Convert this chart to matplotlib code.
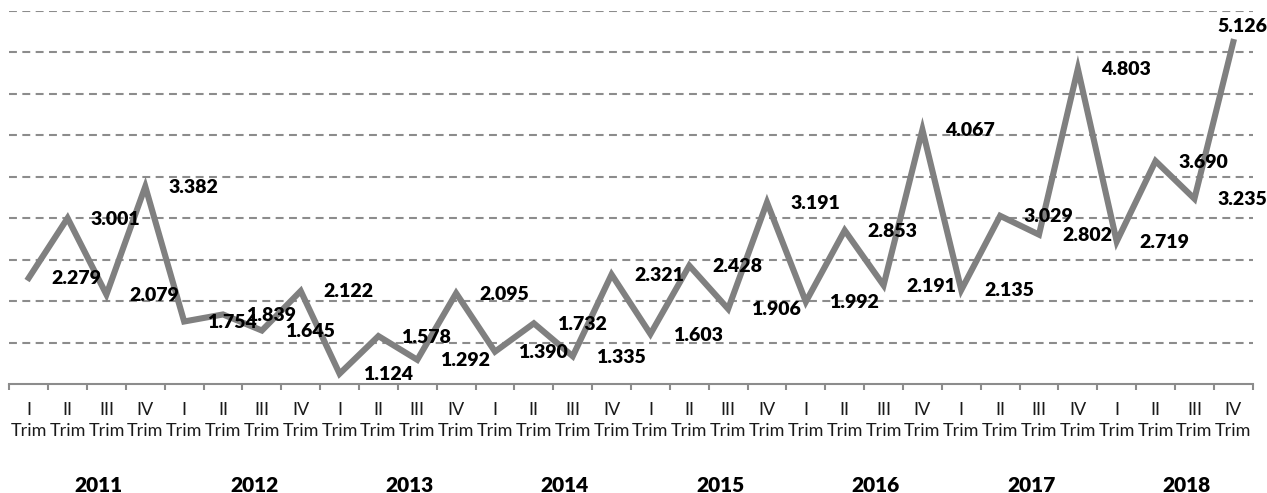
import numpy as np
import matplotlib
matplotlib.use('Agg')
import matplotlib.pyplot as plt

# Quarterly values (thousands), 2011-2018
years = ['2011', '2012', '2013', '2014', '2015', '2016', '2017', '2018']
quarters = ['I', 'II', 'III', 'IV']
values = [2.279, 3.001, 2.079, 3.382,
          1.754, 1.839, 1.645, 2.122,
          1.124, 1.578, 1.292, 2.095,
          1.390, 1.732, 1.335, 2.321,
          1.603, 2.428, 1.906, 3.191,
          1.992, 2.853, 2.191, 4.067,
          2.135, 3.029, 2.802, 4.803,
          2.719, 3.690, 3.235, 5.126]

plt.rcParams['font.family'] = ['Lato', 'DejaVu Sans']

W, H = 1267, 493
fig = plt.figure(figsize=(W / 100, H / 100), dpi=100)
ax = fig.add_axes([9.3 / W, (H - 384) / H, (1252.7 - 9.3) / W, (384 - 11) / H])

x = np.arange(len(values))
line_color = '#808080'
grid_color = '#8c8c8c'

ax.plot(x, values, color=line_color, lw=4.4, solid_joinstyle='miter', zorder=3)

ax.set_xlim(-0.5, len(values) - 0.5)
ax.set_ylim(1.0, 5.5)

# dashed horizontal gridlines
ax.set_yticks(np.arange(1.5, 5.51, 0.5))
ax.yaxis.grid(True, color=grid_color, lw=1.5, linestyle=(0, (3.8, 2.6)))
ax.tick_params(axis='y', length=0, labelleft=False)
ax.set_axisbelow(True)

for s in ['top', 'right', 'left']:
    ax.spines[s].set_visible(False)
ax.spines['bottom'].set_color('#8c8c8c')
ax.spines['bottom'].set_linewidth(1.5)

# category labels and boundary ticks
ax.set_xticks(x)
ax.set_xticklabels([f"{q}\nTrim" for y in years for q in quarters], linespacing=1.4)
ax.tick_params(axis='x', which='major', length=0, pad=13, labelsize=13, labelcolor='#1a1a1a')
ax.set_xticks(np.arange(-0.5, len(values), 1.0), minor=True)
ax.tick_params(axis='x', which='minor', length=4.5, width=1.5, color='#8c8c8c', direction='out')

# year labels
for k, yr in enumerate(years):
    ax.text(4 * k + 1.5 + 0.3, -0.272, yr, transform=ax.get_xaxis_transform(),
            ha='center', va='center', fontsize=15, fontweight='heavy', color='black')

# data labels
for i, v in enumerate(values):
    if i == len(values) - 1:
        off = (-16, 16)
    else:
        off = (23, -1)
    ax.annotate(f"{v:.3f}", (i, v), xytext=off, textcoords='offset pixels',
                ha='left', va='center', fontsize=14, fontweight='heavy', color='black',
                zorder=4, annotation_clip=False)

fig.savefig('out.png', dpi=100)
plt.close(fig)
